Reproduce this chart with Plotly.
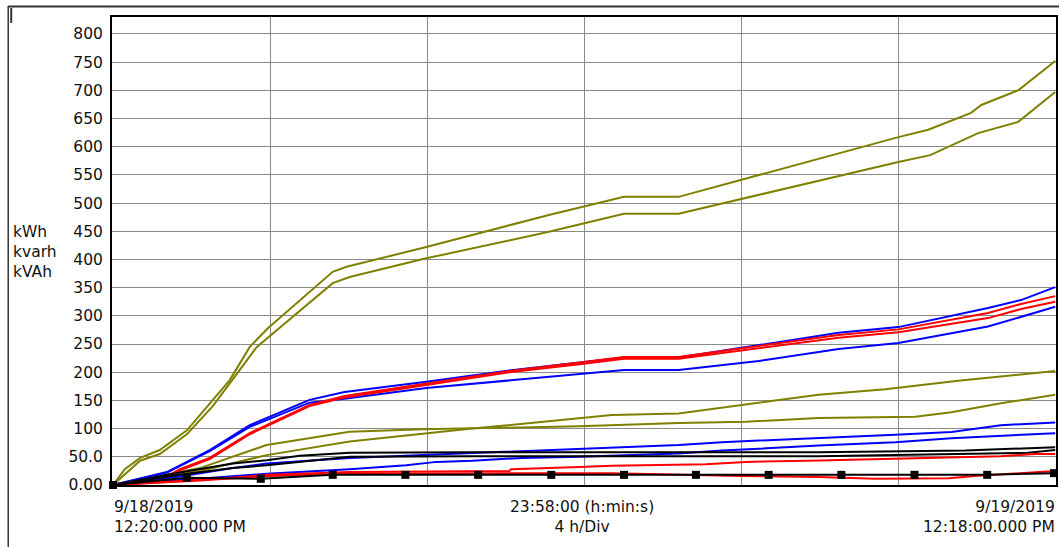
import plotly.graph_objects as go

# ---------------- data (x in hours since 9/18/2019 12:20 PM) ----------------
o1_x = [0, 0.30, 0.69, 1.19, 1.88, 2.54, 2.97, 3.48, 3.94, 5.59, 5.94, 7.97, 11.09, 13.00, 14.39, 19.98, 20.74, 21.83, 22.09, 23.03, 23.97]
o1_y = [0, 28, 48, 62, 97, 150, 186, 245, 278, 378, 387, 422, 479, 511, 511, 617, 630, 660, 674, 700, 752]

o2_x = [0, 0.69, 1.19, 1.88, 2.54, 3.66, 5.59, 6.02, 7.97, 11.09, 13.00, 14.39, 19.98, 20.79, 22.01, 23.03, 23.97]
o2_y = [0, 43, 55, 90, 140, 245, 358, 369, 402, 449, 481, 481, 573, 585, 624, 644, 697]

o3_x = [0, 2.21, 3.91, 6.02, 9.14, 11.86, 12.69, 14.39, 15.99, 17.95, 19.65, 21.50, 23.97]
o3_y = [0, 25, 53, 77, 100, 119, 124, 127, 142, 160, 170, 185, 202]

o4_x = [0, 2.21, 3.91, 6.02, 7.87, 9.14, 11.86, 14.39, 16.10, 17.95, 20.41, 21.33, 22.59, 23.97]
o4_y = [0, 30, 71, 94.6, 99, 101, 104, 110, 112, 119, 121, 129, 145, 160]

b1_x = [0, 1.37, 2.46, 3.48, 5.00, 5.89, 7.97, 10.08, 11.98, 13.00, 14.39, 16.43, 18.46, 19.98, 22.26, 23.10, 23.97]
b1_y = [0, 23, 62, 106, 151, 165, 183, 203, 218, 226, 226, 248, 270, 280, 314, 328, 351]

rb_x = [0, 1.37, 1.70, 2.46, 3.48, 5.00, 5.89, 7.97, 10.08, 11.98, 13.00, 14.39, 16.43, 18.46, 19.98, 22.26, 23.10, 23.97]
r1_y = [0, 15, 28, 48, 92, 142, 158, 180, 202, 218, 227, 227, 246, 266, 276, 305, 321, 335]
r2_y = [0, 13, 26, 46, 90, 140, 155, 178, 200, 215, 224, 224, 242, 261, 271, 296, 312, 325]

b2_x = [0, 1.37, 2.46, 3.48, 5.00, 5.89, 7.97, 11.98, 13.00, 14.39, 16.43, 18.46, 19.98, 22.26, 23.10, 23.97]
b2_y = [0, 22, 60, 103, 146, 153, 172, 197, 204, 204, 220, 241, 252, 281, 298, 316]

b3_x = [0, 1.70, 3.05, 3.91, 6.02, 7.87, 9.65, 10.59, 11.53, 14.39, 15.49, 16.93, 17.95, 19.90, 21.33, 22.59, 23.97]
b3_y = [0, 15, 30, 38, 48, 53, 58, 61, 64, 71, 76, 80, 83, 89, 94, 106, 111]

b4_x = [0, 2.21, 3.91, 6.02, 6.78, 7.46, 8.23, 9.14, 10.41, 11.86, 14.39, 15.49, 17.95, 19.90, 21.33, 22.59, 23.97]
b4_y = [0, 12, 20, 28, 32, 35, 41, 43, 48, 50, 56, 61, 70, 76, 83, 87, 92]

k1_x = [0, 1.70, 3.05, 3.91, 4.75, 6.02, 9.06, 17.95, 21.68, 23.28, 23.97]
k1_y = [0, 22, 38, 44, 52, 57, 58, 58, 61, 65, 67]

k2_x = [0, 1.70, 3.05, 3.91, 6.02, 9.06, 17.95, 21.68, 23.28, 23.97]
k2_y = [0, 18, 30, 35, 50, 51, 51, 55, 57, 62]

r3_x = [0, 2.46, 3.99, 6.02, 10.08, 10.13, 11.86, 12.69, 15.08, 16.10, 17.69, 20.49, 21.58, 22.59, 23.46, 23.97]
r3_y = [0, 10, 18, 23, 25, 28, 32, 34, 37, 41, 43, 48, 50, 51, 55, 55]

r4_x = [0, 2.21, 3.99, 6.02, 10.08, 12.69, 15.99, 17.95, 19.40, 21.25, 21.93, 22.95, 23.97]
r4_y = [0, 8, 16, 20, 21, 21, 16, 14, 11, 12, 16, 21, 25]

k3_x = [0, 1.88, 3.76, 5.59, 7.44, 9.29, 11.15, 13.00, 14.83, 16.68, 18.53, 20.39, 22.24, 23.94]
k3_y = [0, 13, 11, 18, 18, 18, 18, 18, 18, 18, 18, 18, 18, 21]

y_ticks = [0, 50, 100, 150, 200, 250, 300, 350, 400, 450, 500, 550, 600, 650, 700, 750, 800]
y_tick_text = ["0.00", "50.0", "100", "150", "200", "250", "300", "350", "400", "450",
               "500", "550", "600", "650", "700", "750", "800"]
span_hours = 23.967  # 23:58:00
n_div = 6
unit_lines = "kWh<br>kvarh<br>kVAh"
left_label = "9/18/2019<br>12:20:00.000 PM"
mid_label = "23:58:00 (h:min:s)<br>4 h/Div"
right_label = "9/19/2019<br>12:18:00.000 PM"

# ---------------- styling ----------------
OLIVE = "rgb(128,128,0)"
BLUE = "rgb(0,0,255)"
RED = "rgb(255,0,0)"
BLACK = "rgb(0,0,0)"
FONT = "DejaVu Sans, Liberation Sans, Arial, sans-serif"
FS = 15.5
TXT = "#111"

fig = go.Figure()

def add(x, y, color, width=2, **kw):
    fig.add_trace(go.Scatter(x=x, y=y, mode=kw.pop("mode", "lines"),
                             line=dict(color=color, width=width),
                             showlegend=False, hoverinfo="skip", **kw))

add(o1_x, o1_y, OLIVE)
add(o2_x, o2_y, OLIVE)
add(o3_x, o3_y, OLIVE)
add(o4_x, o4_y, OLIVE)
add(b1_x, b1_y, BLUE)
add(b2_x, b2_y, BLUE)
add(rb_x, r1_y, RED)
add(rb_x, r2_y, RED)
add(b3_x, b3_y, BLUE)
add(b4_x, b4_y, BLUE)
add(k1_x, k1_y, BLACK)
add(k2_x, k2_y, BLACK)
add(r3_x, r3_y, RED)
add(r4_x, r4_y, RED)
add(k3_x, k3_y, BLACK, mode="lines+markers",
    marker=dict(symbol="square", size=8, color=BLACK), cliponaxis=False)

grid_vals = [span_hours * k / n_div for k in range(1, n_div)]

fig.update_xaxes(range=[-0.025, 23.99], tickvals=grid_vals, ticktext=[""] * len(grid_vals),
                 showgrid=True, gridcolor="#8a8a8a", gridwidth=1, zeroline=False,
                 showline=True, linecolor="black", linewidth=2, mirror=True, ticks="")
fig.update_yaxes(range=[0, 830], tickvals=y_ticks, ticktext=y_tick_text,
                 showgrid=True, gridcolor="#8a8a8a", gridwidth=1, zeroline=False,
                 showline=True, linecolor="black", linewidth=2, mirror=True, ticks="",
                 ticklabelstandoff=4,
                 tickfont=dict(family=FONT, size=FS, color=TXT))

W, H = 1061, 547
L, R, T, B = 112, 3, 17, 62
pw, ph = W - L - R, H - T - B

def px_x(px):
    return (px - L) / pw

def px_y(py):
    return (H - B - py) / ph

annos = [
    dict(text=unit_lines, x=px_x(11), y=px_y(221), xanchor="left", yanchor="top", align="left"),
    dict(text=left_label, x=px_x(112), y=px_y(496), xanchor="left", yanchor="top", align="left"),
    dict(text=mid_label, x=px_x(583), y=px_y(496), xanchor="center", yanchor="top", align="center"),
    dict(text=right_label, x=px_x(1059), y=px_y(496), xanchor="right", yanchor="top", align="right"),
]
for a in annos:
    fig.add_annotation(xref="paper", yref="paper", showarrow=False,
                       font=dict(family=FONT, size=FS, color=TXT), **a)

# outer frame lines
fig.add_shape(type="line", xref="paper", yref="paper", x0=px_x(8), x1=px_x(1061),
              y0=px_y(6.5), y1=px_y(6.5), line=dict(color="#333", width=2))
fig.add_shape(type="line", xref="paper", yref="paper", x0=px_x(8), x1=px_x(8),
              y0=px_y(6), y1=px_y(547), line=dict(color="#333", width=1.5))
fig.add_shape(type="line", xref="paper", yref="paper", x0=px_x(11), x1=px_x(11),
              y0=px_y(8), y1=px_y(23), line=dict(color="#333", width=2))

fig.update_layout(width=W, height=H, margin=dict(l=L, r=R, t=T, b=B),
                  paper_bgcolor="white", plot_bgcolor="white", showlegend=False,
                  font=dict(family=FONT, size=FS, color=TXT))

fig.write_html("out.html", config={"displayModeBar": False},
               post_script="document.body.style.margin='0';document.body.style.overflow='hidden';")
